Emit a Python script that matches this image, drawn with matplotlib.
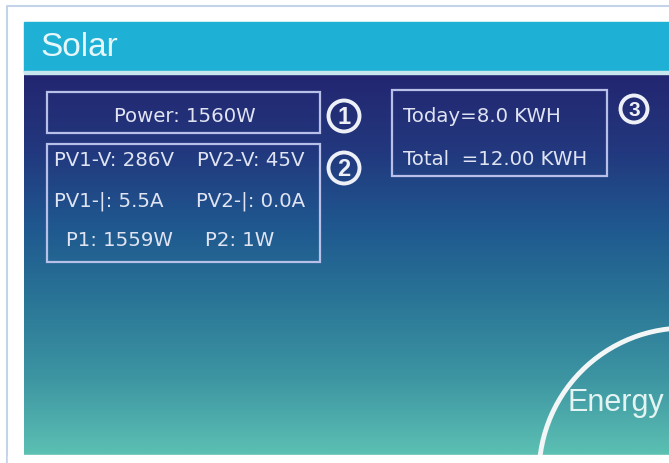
import numpy as np
import matplotlib.pyplot as plt
from matplotlib.colors import LinearSegmentedColormap
from matplotlib.patches import Rectangle, Circle, Arc

W, H = 669, 464

title = "Solar"
power_label = "Power: 1560W"
pv_left = ["PV1-V: 286V", "PV1-|: 5.5A", "P1: 1559W"]
pv_right = ["PV2-V: 45V", "PV2-|: 0.0A", "P2: 1W"]
energy_lines = ["Today=8.0 KWH", "Total  =12.00 KWH"]
markers = ["1", "2", "3"]
arc_label = "Energy"

plt.rcParams['font.family'] = ['Liberation Sans', 'DejaVu Sans']

fig = plt.figure(figsize=(W / 100, H / 100), dpi=100)
ax = fig.add_axes([0, 0, 1, 1])
ax.axis('off')

txt = '#dfe3f2'
edge = '#b8c0ea'
box_font = ['DejaVu Sans']

# screen gradient
grad = LinearSegmentedColormap.from_list('scr', [
    (0.0, '#232670'), (0.2, '#22387e'), (0.4, '#1f588f'),
    (0.6, '#2a7697'), (0.8, '#3d95a2'), (1.0, '#5cc0b3')])
g = np.linspace(0, 1, 256).reshape(-1, 1)
ax.imshow(g, cmap=grad, aspect='auto', extent=[24, W, 456, 76], zorder=1)

# outer frame
ax.plot([7, 7, W], [H, 7, 7], color='#c5d3e8', lw=1.5)

# title bar
ax.add_patch(Rectangle((24, 23), W - 24, 50, color='#1fb1d5', zorder=2))
ax.add_patch(Rectangle((24, 72), W - 24, 3, color='#c8e6ee', zorder=2))
ax.text(40, 48, title, color='#e6f7fb', fontsize=24, va='center', ha='left', zorder=3)

# boxes
for x, y, w, h in [(47, 93, 273, 41), (47, 145, 273, 118), (392, 91, 215, 86)]:
    ax.add_patch(Rectangle((x, y), w, h, fill=False, ec=edge, lw=1.6, zorder=3))

fs = 14.2
ax.text(185, 117, power_label, color=txt, fontsize=fs, family=box_font,
        ha='center', va='center', zorder=4)

rows_y = [161, 201, 241]
left_x = [54, 54, 66]
right_x = [197, 196, 205]
for i in range(3):
    ax.text(left_x[i], rows_y[i], pv_left[i], color=txt, fontsize=fs, family=box_font,
            ha='left', va='center', zorder=4)
    ax.text(right_x[i], rows_y[i], pv_right[i], color=txt, fontsize=fs, family=box_font,
            ha='left', va='center', zorder=4)

for y, s in zip([117, 160], energy_lines):
    ax.text(403, y, s, color=txt, fontsize=fs, family=box_font,
            ha='left', va='center', zorder=4)

# circled numbers
for (cx, cy, r, f), m in zip([(344, 117, 15.5, 17), (344, 169, 15.5, 17), (634, 110, 13.5, 15)], markers):
    ax.add_patch(Circle((cx, cy), r, fill=False, ec='#eef0f8', lw=2.8, zorder=4))
    ax.text(cx, cy + 1, m, color='#eef0f8', fontsize=f, fontweight='bold',
            ha='center', va='center', zorder=5)

# energy arc
ax.add_patch(Arc((685, 475), 292, 292, theta1=180, theta2=275, ec='#f2f6f6', lw=3.5, zorder=4))
ax.text(568, 403, arc_label, color='#e4f4f2', fontsize=22, ha='left', va='center', zorder=5)

# white area below screen
ax.add_patch(Rectangle((8, 456), W, 10, color='white', zorder=6))

ax.set_autoscale_on(False)
ax.set_xlim(0, W)
ax.set_ylim(H, 0)

fig.savefig('out.png', dpi=100, facecolor='white')
